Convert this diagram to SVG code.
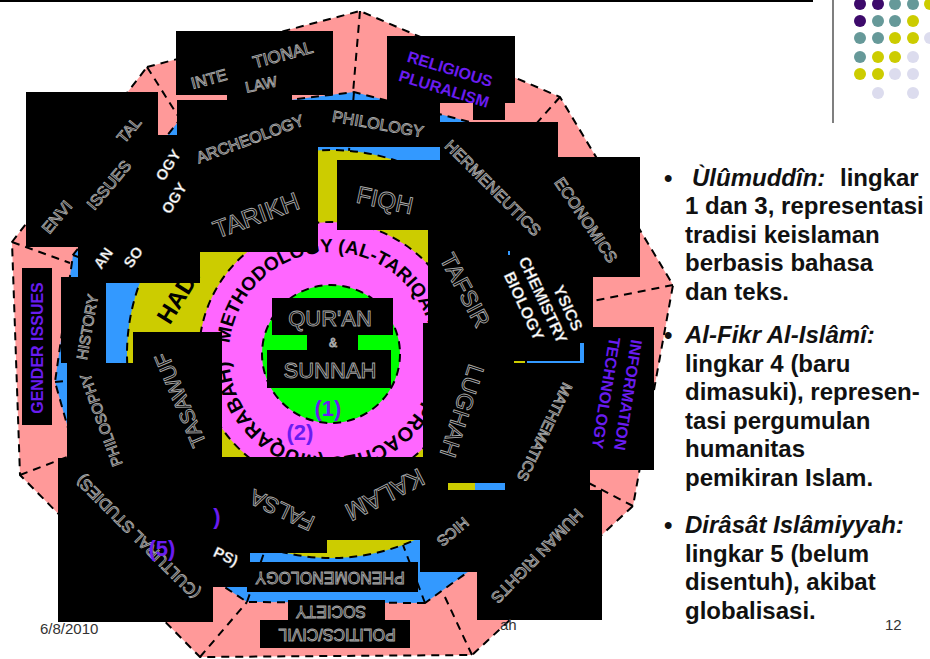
<svg xmlns="http://www.w3.org/2000/svg" width="930" height="659" viewBox="0 0 930 659">
<style>
.bk{fill:#000}
.d{fill:none;stroke:#000;stroke-width:2;stroke-dasharray:8 6}
text{font-family:"Liberation Sans",Arial,sans-serif;text-anchor:middle;dominant-baseline:central}
.e{fill:#000;stroke:#a8a8a8;stroke-width:0.9}
.w{fill:#fff;font-weight:bold;stroke:#777;stroke-width:0.4}
.p{fill:#6a1cf0;font-weight:bold}
.arc{font-weight:bold;fill:#000;dominant-baseline:auto;text-anchor:start}
.r{fill:#111;font-weight:bold;font-size:24px;text-anchor:start;dominant-baseline:auto}
.f{fill:#333;font-size:15px;text-anchor:start;dominant-baseline:auto}
.dl{fill:#3d0a6b}.dt{fill:#669999}.dy{fill:#cccc00}.dv{fill:#dcdcee}
</style>
<defs>
<path id="arcTop" d="M229.6,343.3 A102,102 0 0 1 432.6,345.1" fill="none"/>
<path id="arcBot" d="M432.9,359.3 A102,102 0 0 1 229.2,361.1" fill="none"/>
</defs>
<rect width="930" height="659" fill="#fff"/>
<g id="frame">
<line x1="0" y1="1" x2="813" y2="1" stroke="#000" stroke-width="2"/>
<line x1="833" y1="0" x2="833" y2="123" stroke="#555" stroke-width="1.5"/>
<circle class="dl" cx="860" cy="4" r="6"/><circle class="dl" cx="878" cy="4" r="6"/><circle class="dt" cx="895" cy="4" r="6"/><circle class="dt" cx="913" cy="4" r="6"/><circle class="dy" cx="930" cy="4" r="6"/>
<circle class="dl" cx="860" cy="21" r="6"/><circle class="dt" cx="878" cy="21" r="6"/><circle class="dt" cx="895" cy="21" r="6"/><circle class="dy" cx="913" cy="21" r="6"/>
<circle class="dt" cx="860" cy="38" r="6"/><circle class="dt" cx="878" cy="38" r="6"/><circle class="dy" cx="895" cy="38" r="6"/><circle class="dy" cx="913" cy="38" r="6"/><circle class="dv" cx="930" cy="38" r="6"/>
<circle class="dt" cx="860" cy="57" r="6"/><circle class="dy" cx="878" cy="57" r="6"/><circle class="dy" cx="895" cy="57" r="6"/><circle class="dv" cx="913" cy="57" r="6"/>
<circle class="dy" cx="860" cy="74" r="6"/><circle class="dy" cx="878" cy="74" r="6"/><circle class="dv" cx="895" cy="74" r="6"/><circle class="dv" cx="913" cy="74" r="6"/>
<circle class="dv" cx="878" cy="93" r="6"/><circle class="dv" cx="913" cy="93" r="6"/>
</g>
<g id="ring5">
<polygon points="147,67 360,11 560,97 673,285 633,506 472,655 200,657 20,475 12,242" fill="#ff9999" stroke="#000" stroke-width="2" stroke-dasharray="8 6"/>
</g>
<g id="ring4">
<polygon points="425,603 247,602 87,495 55,382 73,255 185,113 354,92 532,138 590,318 570,498" fill="#3399ff" stroke="#000" stroke-width="2" stroke-dasharray="8 6"/>
</g>
<g id="connectors">
<line class="d" x1="147" y1="67" x2="185" y2="127"/>
<line class="d" x1="360" y1="11" x2="353" y2="93"/>
<line class="d" x1="560" y1="97" x2="511" y2="152"/>
<line class="d" x1="673" y1="285" x2="588" y2="302"/>
<line class="d" x1="633" y1="506" x2="577" y2="477"/>
<line class="d" x1="472" y1="655" x2="444" y2="595"/>
<line class="d" x1="200" y1="657" x2="247" y2="602"/>
<line class="d" x1="20" y1="475" x2="75" y2="454"/>
<line class="d" x1="12" y1="242" x2="70" y2="263"/>
<line class="d" x1="425" y1="603" x2="403" y2="545"/>
<line class="d" x1="247" y1="602" x2="266" y2="547"/>
<line class="d" x1="87" y1="495" x2="154" y2="456"/>
<line class="d" x1="55" y1="382" x2="128" y2="375"/>
<line class="d" x1="73" y1="255" x2="140" y2="281"/>
<line class="d" x1="185" y1="113" x2="225" y2="180"/>
<line class="d" x1="354" y1="92" x2="349" y2="151"/>
<line class="d" x1="532" y1="138" x2="470" y2="205"/>
<line class="d" x1="590" y1="318" x2="533" y2="326"/>
<line class="d" x1="570" y1="498" x2="506" y2="459"/>
</g>
<g id="ring3">
<circle cx="331" cy="354" r="204" fill="#cccc00" stroke="#000" stroke-width="2" stroke-dasharray="8 6"/>
<text transform="translate(178,296) rotate(-58)" font-size="24" font-weight="bold" fill="#000">HADI</text>
</g>
<g id="ring2">
<circle cx="331" cy="354" r="132" fill="#ff66ff" stroke="#000" stroke-width="2" stroke-dasharray="8 6"/>
<text class="arc" font-size="19"><textPath href="#arcTop">METHODOLOGY (AL-TARIQAH)</textPath></text>
<text class="arc" font-size="20" style="text-anchor:end"><textPath href="#arcBot" startOffset="100%">APPROACHES (MUQARABAH)</textPath></text>
</g>
<g id="ring1">
<circle cx="331" cy="354" r="69" fill="#00ff00" stroke="#000" stroke-width="2" stroke-dasharray="8 6"/>
</g>
<g id="panels" class="bk">
<rect x="176" y="31" width="157" height="64"/>
<rect x="227" y="60" width="65" height="40"/>
<rect x="387" y="36" width="128" height="67"/>
<rect x="473" y="100" width="32" height="20"/>
<rect x="177" y="100" width="263" height="47"/>
<rect x="26" y="92" width="132" height="155"/>
<rect x="158" y="135" width="160" height="117"/>
<rect x="78" y="247" width="122" height="36"/>
<rect x="61" y="277" width="45" height="86"/>
<rect x="67" y="363" width="66" height="97"/>
<rect x="133" y="332" width="89" height="128"/>
<rect x="22" y="268" width="30" height="157"/>
<rect x="58" y="458" width="155" height="164"/>
<rect x="213" y="457" width="210" height="83"/>
<rect x="213" y="540" width="37" height="47"/>
<rect x="250" y="540" width="77" height="13"/>
<rect x="247" y="562" width="171" height="30"/>
<rect x="288" y="600" width="97" height="20"/>
<rect x="260" y="620" width="150" height="28"/>
<rect x="337" y="160" width="103" height="70"/>
<rect x="440" y="122" width="118" height="108"/>
<rect x="428" y="230" width="130" height="93"/>
<rect x="423" y="323" width="167" height="167"/>
<rect x="553" y="157" width="87" height="120"/>
<rect x="558" y="277" width="35" height="50"/>
<rect x="590" y="327" width="64" height="143"/>
<rect x="420" y="490" width="57" height="82"/>
<rect x="477" y="490" width="125" height="130"/>
<rect x="272" y="298" width="121" height="37"/>
<rect x="307" y="335" width="51" height="15"/>
<rect x="267" y="350" width="124" height="38"/>
</g>
<g id="bits">
<rect x="448" y="483" width="27" height="7" fill="#cccc00"/>
<rect x="475" y="483" width="30" height="7" fill="#3399ff"/>
<rect x="580" y="343" width="4" height="20" fill="#3399ff"/>
<rect x="527" y="361" width="57" height="2" fill="#3399ff"/>
<rect x="514" y="361" width="11" height="2" fill="#cccc00"/>
<rect x="508" y="251" width="2" height="4" fill="#3399ff"/>
</g>
<g id="n-international-law" class="e" font-size="16">
<text transform="translate(209,79) rotate(-15)">INTE</text>
<text transform="translate(283,55) rotate(-15)" font-size="17">TIONAL</text>
<text transform="translate(261,84) rotate(-12)" font-size="15">LAW</text>
</g>
<g id="n-religious-pluralism" class="p" font-size="16">
<text transform="translate(450,69) rotate(17)">RELIGIOUS</text>
<text transform="translate(444,89) rotate(17)">PLURALISM</text>
</g>
<g id="n-philology"><text class="e" font-size="16" transform="translate(378,124) rotate(10)">PHILOLOGY</text></g>
<g id="n-archeology"><text class="e" font-size="16" transform="translate(250,139) rotate(-20)">ARCHEOLOGY</text></g>
<g id="n-hermeneutics"><text class="e" font-size="16" transform="translate(493,188) rotate(45)">HERMENEUTICS</text></g>
<g id="n-economics"><text class="e" font-size="16" transform="translate(586,220) rotate(56)">ECONOMICS</text></g>
<g id="n-fiqh"><text class="e" font-size="24" transform="translate(385,200) rotate(12)">FIQH</text></g>
<g id="n-tarikh"><text class="e" font-size="25" transform="translate(256,215) rotate(-20)">TARIKH</text></g>
<g id="n-environmental-issues" class="e" font-size="16">
<text transform="translate(57,217) rotate(-50)">ENVI</text>
<text transform="translate(129,130) rotate(-50)">TAL</text>
<text transform="translate(109,185) rotate(-50)">ISSUES</text>
</g>
<g id="n-anthropology-sociology" class="w" font-size="15">
<text transform="translate(103,258) rotate(-55)">AN</text>
<text transform="translate(133,257) rotate(-55)">SO</text>
<text transform="translate(168,165) rotate(-58)">OGY</text>
<text transform="translate(174,198) rotate(-58)">OGY</text>
</g>
<g id="n-gender-issues"><text class="p" font-size="16" transform="translate(37,348) rotate(-90)">GENDER ISSUES</text></g>
<g id="n-history"><text class="e" font-size="15" transform="translate(87,327) rotate(-80)">HISTORY</text></g>
<g id="n-philosophy"><text class="e" font-size="15" transform="translate(101,420) rotate(-110)">PHILOSOPHY</text></g>
<g id="n-tasawuf"><text class="e" font-size="21" transform="translate(180,400) rotate(-113)">TASAWUF</text></g>
<g id="n-cultural-studies"><text class="e" font-size="16" transform="translate(138,537) rotate(225)">(CULTURAL STUDIES)</text></g>
<g id="n-falsafah"><text class="e" font-size="22" transform="translate(282,510) rotate(205)">FALSA</text></g>
<g id="n-psy"><text class="w" font-size="15" transform="translate(226,556) rotate(25)">PS)</text></g>
<g id="n-kalam"><text class="e" font-size="25" transform="translate(385,495) rotate(153)">KALAM</text></g>
<g id="n-ethics"><text class="e" font-size="15" transform="translate(453,532) rotate(140)">HICS</text></g>
<g id="n-human-rights"><text class="e" font-size="16" transform="translate(537,556) rotate(134)">HUMAN RIGHTS</text></g>
<g id="n-phenomenology"><text class="e" font-size="16" transform="translate(330,577) rotate(180)">PHENOMENOLOGY</text></g>
<g id="n-society" class="e" font-size="16">
<text transform="translate(331,611) rotate(180)">SOCIETY</text>
<text transform="translate(337,634) rotate(180)">POLITICS/CIVIL</text>
</g>
<g id="n-tafsir"><text class="e" font-size="23" transform="translate(465,290) rotate(62)">TAFSIR</text></g>
<g id="n-lughah"><text class="e" font-size="23" transform="translate(462,411) rotate(108)">LUGHAH</text></g>
<g id="n-mathematics"><text class="e" font-size="15" transform="translate(545,432) rotate(116)">MATHEMATICS</text></g>
<g id="n-sciences" class="w" font-size="16">
<text transform="translate(568,308) rotate(65)">YSICS</text>
<text transform="translate(543,300) rotate(65)">CHEMISTRY</text>
<text transform="translate(524,306) rotate(65)">BIOLOGY</text>
</g>
<g id="n-information-technology" class="p" font-size="16">
<text transform="translate(628,395) rotate(99)">INFORMATION</text>
<text transform="translate(606,393) rotate(99)">TECHNOLOGY</text>
</g>
<g id="n-quran-sunnah" class="e">
<text x="330" y="318" font-size="22">QUR'AN</text>
<text x="333" y="343" font-size="12">&amp;</text>
<text x="330" y="370" font-size="22">SUNNAH</text>
</g>
<g id="n-numbers" class="p" font-size="22">
<text x="328" y="408">(1)</text>
<text x="300" y="432">(2)</text>
<text x="217" y="516">)</text>
<text x="162" y="548">(5)</text>
</g>
<g id="notes">
<text class="r" x="664" y="186">•</text>
<text class="r" x="692" y="186" font-style="italic">Ùlûmuddîn:</text>
<text class="r" x="840" y="186">lingkar</text>
<text class="r" x="685" y="214">1 dan 3, representasi</text>
<text class="r" x="685" y="243">tradisi keislaman</text>
<text class="r" x="685" y="271">berbasis bahasa</text>
<text class="r" x="685" y="300">dan teks.</text>
<text class="r" x="664" y="343">•</text>
<text class="r" x="685" y="343" font-style="italic">Al-Fikr Al-Islâmî:</text>
<text class="r" x="685" y="372">lingkar 4 (baru</text>
<text class="r" x="685" y="400">dimasuki), represen-</text>
<text class="r" x="685" y="429">tasi pergumulan</text>
<text class="r" x="685" y="457">humanitas</text>
<text class="r" x="685" y="486">pemikiran Islam.</text>
<text class="r" x="664" y="533">•</text>
<text class="r" x="685" y="533" font-style="italic">Dirâsât Islâmiyyah:</text>
<text class="r" x="685" y="562">lingkar 5 (belum</text>
<text class="r" x="685" y="590">disentuh), akibat</text>
<text class="r" x="685" y="619">globalisasi.</text>
</g>
<g id="footer">
<text class="f" x="40" y="634">6/8/2010</text>
<text class="f" x="500" y="630">ah</text>
<text class="f" x="885" y="630" font-size="13">12</text>
</g>
</svg>
